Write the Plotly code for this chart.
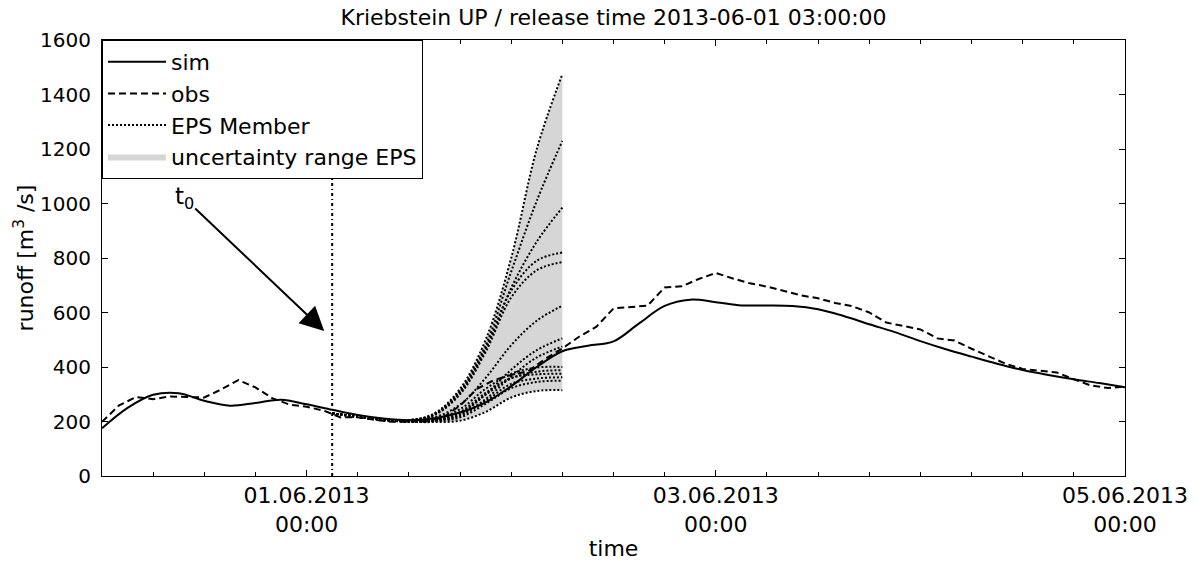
import numpy as np
import pandas as pd
import plotly.graph_objects as go

# ---------------- data ----------------
START = pd.Timestamp("2013-05-31 00:00")
T0 = pd.Timestamp("2013-06-01 03:00")

sim_hours = list(range(0, 121, 3))
sim_values = [175, 250, 298, 304, 276, 258, 268, 280, 263, 243, 224, 211, 205, 212, 233,
              270, 330, 400, 458, 478, 494, 560, 624, 647, 638, 626, 626, 624, 612, 587,
              557, 528, 495, 465, 438, 412, 389, 371, 355, 341, 326]

obs_hours = list(range(0, 121, 2))
obs_values = [199, 259, 290, 282, 292, 291, 288, 318, 352, 325,
              285, 262, 254, 240, 215, 216, 206, 199, 199, 200,
              215, 258, 320, 352, 371, 385, 430, 468, 512, 548,
              615, 619, 625, 692, 696, 723, 745, 725, 707, 695,
              678, 663, 652, 635, 623, 600, 563, 550, 538, 505,
              497, 467, 440, 412, 393, 387, 380, 355, 332, 323, 328]

eps_hours = list(range(27, 55, 3))
eps_members = [
    [230, 218, 208, 205, 230, 320, 500, 800, 1200, 1475],
    [230, 218, 208, 205, 228, 312, 480, 750, 1010, 1230],
    [230, 218, 208, 204, 226, 305, 465, 690, 860, 985],
    [230, 218, 208, 204, 226, 308, 470, 680, 790, 820],
    [230, 218, 208, 204, 224, 300, 455, 655, 755, 785],
    [230, 217, 207, 203, 215, 262, 360, 480, 570, 625],
    [230, 217, 206, 201, 205, 232, 300, 390, 462, 505],
    [230, 217, 206, 201, 204, 225, 282, 365, 435, 475],
    [230, 217, 206, 201, 208, 245, 320, 375, 398, 400],
    [230, 217, 206, 200, 205, 235, 305, 360, 373, 375],
    [230, 217, 205, 200, 201, 215, 265, 322, 345, 350],
    [230, 217, 205, 199, 198, 203, 235, 288, 312, 315],
    [230, 217, 206, 200, 203, 228, 298, 358, 383, 388],
    [230, 217, 205, 200, 202, 220, 275, 338, 358, 362],
]

xtick_dates = ["2013-06-01 00:00", "2013-06-03 00:00", "2013-06-05 00:00"]
xtick_labels = ["01.06.2013<br>00:00", "03.06.2013<br>00:00", "05.06.2013<br>00:00"]
title_text = "Kriebstein UP / release time 2013-06-01 03:00:00"


def to_time(hours):
    return START + pd.to_timedelta(np.asarray(hours, dtype=float), unit="h")


sim_t = to_time(sim_hours)
obs_t = to_time(obs_hours)
eps_t = to_time(eps_hours)
members = np.array(eps_members, dtype=float)
band_lo = members.min(axis=0)
band_hi = members.max(axis=0)

BAND_COLOR = "rgb(214,214,214)"

fig = go.Figure()

# uncertainty band
fig.add_trace(go.Scatter(x=eps_t, y=band_lo, mode="lines", line=dict(width=0, shape="spline"),
                         showlegend=False, hoverinfo="skip"))
fig.add_trace(go.Scatter(x=eps_t, y=band_hi, mode="lines", line=dict(width=0, shape="spline"),
                         fill="tonexty", fillcolor=BAND_COLOR, name="uncertainty range EPS",
                         legendrank=4))

# members
for i, m in enumerate(members):
    fig.add_trace(go.Scatter(x=eps_t, y=m, mode="lines",
                             line=dict(color="black", width=2, dash="2px,2px", shape="spline"),
                             name="EPS Member", showlegend=(i == 0), legendrank=3))

fig.add_trace(go.Scatter(x=obs_t, y=obs_values, mode="lines",
                         line=dict(color="black", width=2, dash="7px,4px"),
                         name="obs", legendrank=2))
fig.add_trace(go.Scatter(x=sim_t, y=sim_values, mode="lines",
                         line=dict(color="black", width=2, shape="spline"),
                         name="sim", legendrank=1))

# t0 line
fig.add_shape(type="line", x0=T0, x1=T0, xref="x", yref="paper", y0=0, y1=1,
              line=dict(color="black", width=2, dash="3px,3px,1px,3px"))

# t0 arrow annotation
fig.add_annotation(x=T0 - pd.Timedelta(minutes=56), y=532, xref="x", yref="y",
                   text="t<sub>0</sub>", showarrow=True, arrowhead=2, arrowsize=2.4,
                   arrowwidth=2, arrowcolor="black", ax=-140, ay=-133,
                   font=dict(size=23, color="black", family="DejaVu Sans"))

minor_ticks = pd.date_range(START, START + pd.Timedelta(hours=120), freq="6h")

fig.update_layout(
    width=1197, height=561,
    margin=dict(l=102, r=72, t=40, b=85),
    paper_bgcolor="white", plot_bgcolor="white",
    font=dict(family="DejaVu Sans", color="black", size=22),
    title=dict(text=title_text, x=0.5, xref="paper", xanchor="center",
               y=1, yref="container", yanchor="top", pad=dict(t=10),
               font=dict(size=22, color="black")),
    showlegend=True,
    legend=dict(x=0, y=1, xanchor="left", yanchor="top", bgcolor="white",
                bordercolor="black", borderwidth=1, font=dict(size=22),
                traceorder="normal", itemwidth=58),
    xaxis=dict(range=[START, START + pd.Timedelta(hours=120)], automargin=False,
               tickmode="array", tickvals=pd.to_datetime(xtick_dates), ticktext=xtick_labels,
               ticks="inside", ticklen=6, tickcolor="black", tickwidth=1,
               showline=True, linecolor="black", linewidth=1, mirror="ticks",
               showgrid=False, zeroline=False,
               tickfont=dict(size=22),
               minor=dict(tickmode="array", tickvals=minor_ticks, ticks="inside",
                          ticklen=4, tickcolor="black", showgrid=False),
               title=dict(text="time", font=dict(size=22), standoff=4)),
    yaxis=dict(range=[0, 1600], dtick=200, tick0=0, automargin=False,
               ticks="inside", ticklen=6, tickcolor="black", tickwidth=1,
               showline=True, linecolor="black", linewidth=1, mirror="ticks",
               showgrid=False, zeroline=False, ticklabelstandoff=6,
               tickfont=dict(size=20),
               title=dict(text="runoff [m<sup>3</sup> /s]", font=dict(size=22), standoff=0)),
)

# remove the default page margin so the figure fills the window exactly
fig.write_html("out.html", config={"displayModeBar": False},
               post_script="document.body.style.margin='0px';")
